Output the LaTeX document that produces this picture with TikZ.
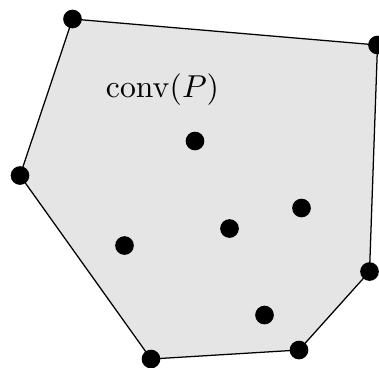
\documentclass[tikz,border=0pt]{standalone}
\usepackage{tikz}
\usetikzlibrary{positioning}

\begin{document}
\begin{tikzpicture}[
        x=0.316pt, y=-0.316pt,
        dot/.style={circle, fill=black, inner sep=0pt, minimum size=5.9pt},
        hull/.style={fill=black!10, draw=black, line width=0.4pt, line join=round}
    ]
    \useasboundingbox (0,0) rectangle (379,367);

    % Hull corners
    \coordinate (c1) at (72.5,19);
    \coordinate (c2) at (377.5,45);
    \coordinate (c3) at (369.5,271.5);
    \coordinate (c4) at (299,350);
    \coordinate (c5) at (151,359);
    \coordinate (c6) at (20,175.5);

    % Hull
    \path[hull] (c1) -- (c2) -- (c3) -- (c4) -- (c5) -- (c6) -- cycle;

    % Hull points
    \foreach \i in {1,...,6}
        \node[dot] (h\i) at (c\i) {};

    % Interior points
    \node[dot] (q1) at (195,141) {};
    \node[dot] (q2) at (229.5,228.5) {};
    \node[dot] (q3) at (301.5,208) {};
    \node[dot] (q4) at (124.5,245.5) {};
    \node[dot] (q5) at (264.5,315) {};

    % Label
    \node (label) at (162.5,90) {$\mathrm{conv}(P)$};
\end{tikzpicture}
\end{document}
